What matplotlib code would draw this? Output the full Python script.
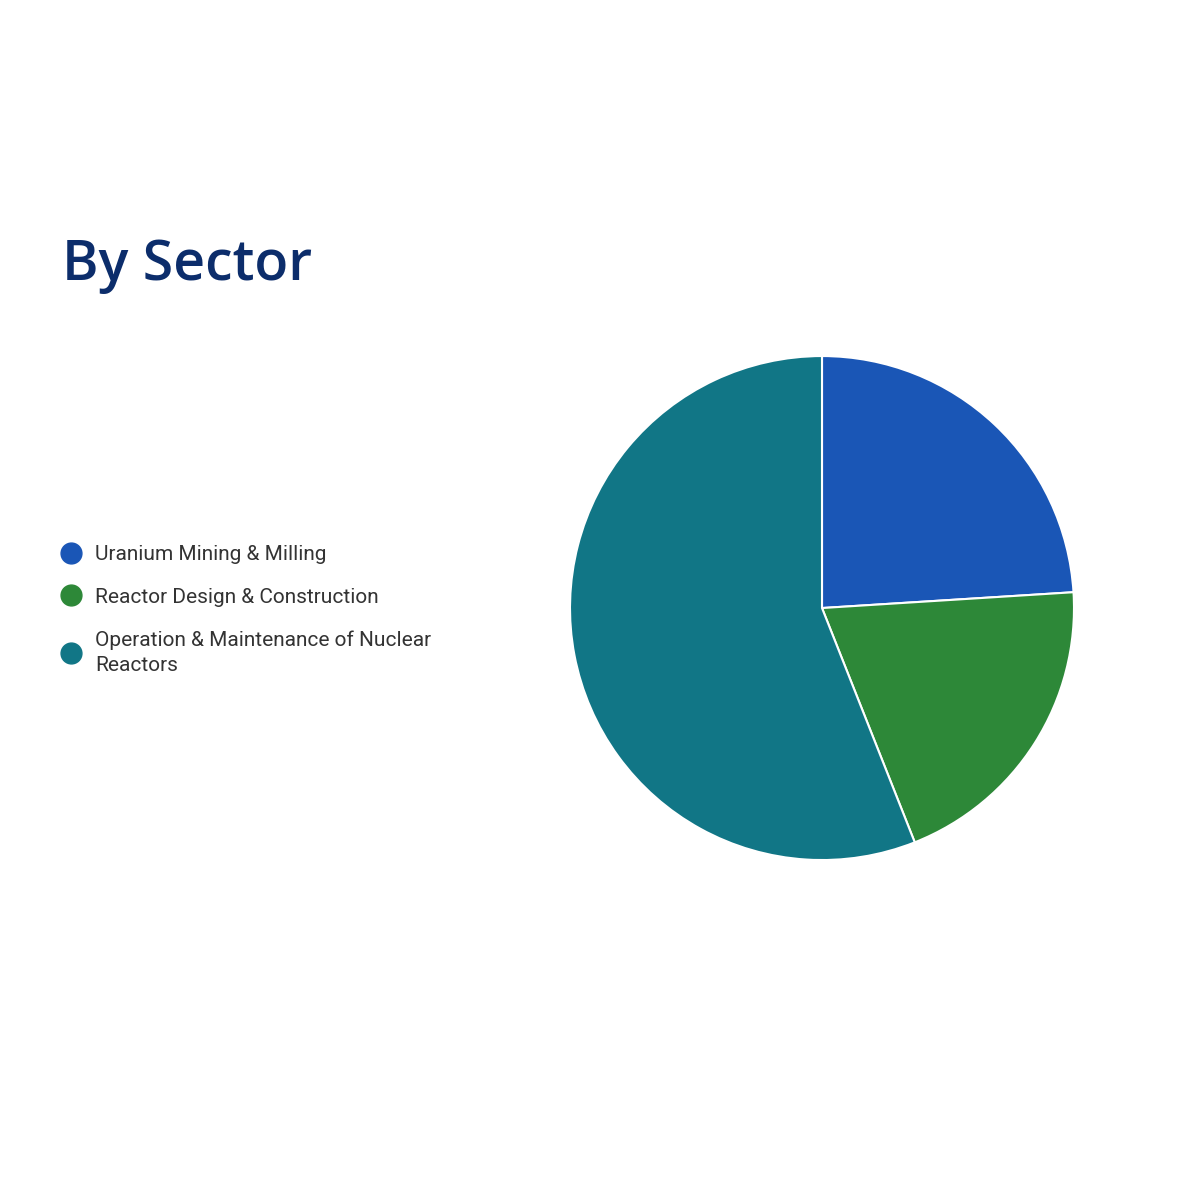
import matplotlib
matplotlib.use("Agg")
import matplotlib.pyplot as plt
from matplotlib.lines import Line2D

title = "By Sector"
categories = ["Uranium Mining & Milling", "Reactor Design & Construction",
              "Operation & Maintenance of Nuclear\nReactors"]
values = [24, 20, 56]
colors = ["#1a56b6", "#2d8838", "#117686"]

fig = plt.figure(figsize=(12, 12), dpi=100)
fig.patch.set_facecolor("white")

fig.text(62 / 1200, 1 - 266 / 1200, title, fontsize=40, color="#0c2d6b",
         family=["Open Sans", "DejaVu Sans"], fontweight="semibold", va="center", ha="left")

ax = fig.add_axes([0.475, 0.2833, 0.42, 0.42])
ax.pie(values, colors=colors, startangle=90, counterclock=False,
       wedgeprops=dict(edgecolor="white", linewidth=1.5))
ax.set_xlim(-1.0, 1.0)
ax.set_ylim(-1.0, 1.0)
ax.set_aspect("equal")
ax.axis("off")

handles = [Line2D([0], [0], marker="o", linestyle="none", markersize=15,
                  markerfacecolor=c, markeredgecolor=c) for c in colors]
leg = fig.legend(handles, categories, loc="upper left",
                 bbox_to_anchor=(50 / 1200, 1 - 537 / 1200), frameon=False,
                 prop=dict(family=["Roboto", "DejaVu Sans"], size=15),
                 labelcolor="#333333", handletextpad=0.55, labelspacing=1.12,
                 handlelength=1.2, borderaxespad=0)
plt.setp(leg.get_texts(), linespacing=1.45)

fig.savefig("out.png", dpi=100, facecolor="white")
